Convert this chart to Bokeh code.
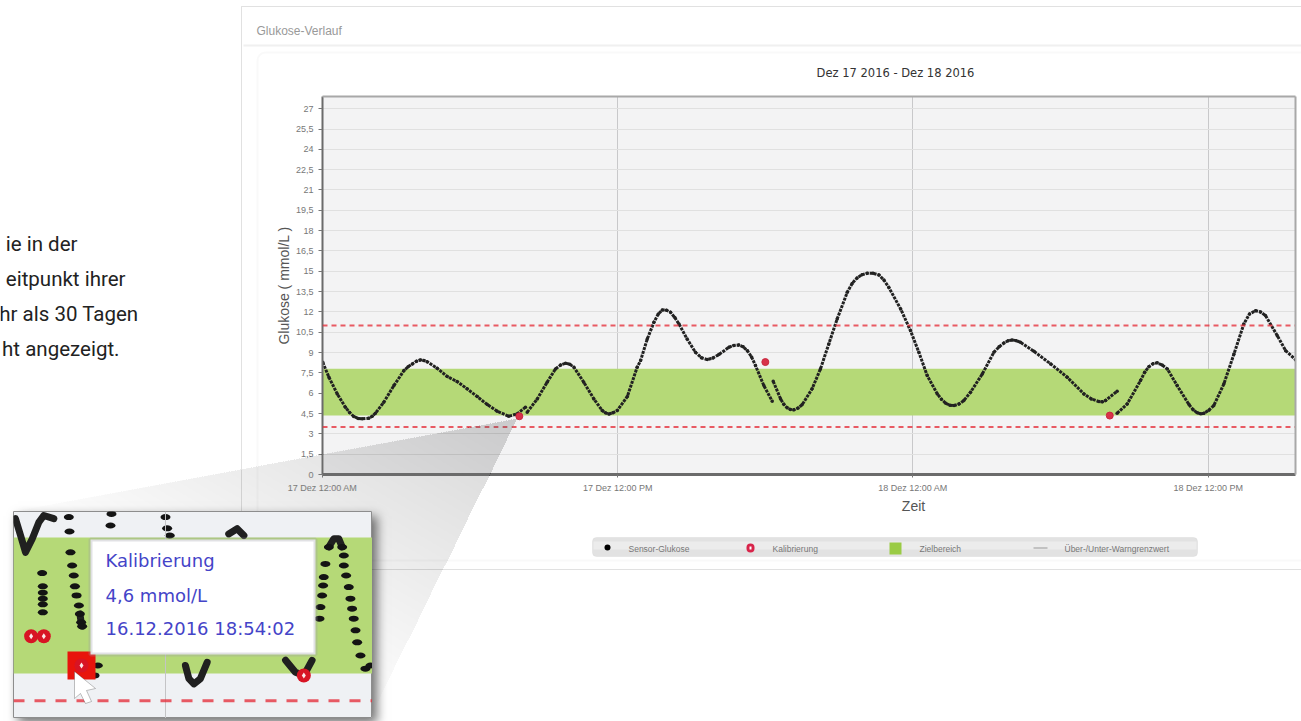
from bokeh.plotting import figure
from bokeh.embed import file_html
from bokeh.resources import INLINE
from bokeh.models import (BoxAnnotation, ColumnDataSource, FixedTicker, Label, PolyAnnotation,
                          Range1d, Span)

# ---------- main chart data: hours since 17 Dec 00:00, glucose in mmol/L ----------
sensor_hours_1 = [0.01,0.26,0.60,0.93,1.10,1.27,1.45,1.61,1.88,2.02,2.15,2.49,2.90,3.31,3.48,3.65,3.82,3.98,4.12,4.25,4.66,5.07,5.47,5.88,6.29,6.70,7.10,7.57,7.91,8.25]
sensor_mmol_1 = [8.28,7.18,5.95,4.97,4.58,4.28,4.14,4.11,4.15,4.30,4.52,5.33,6.56,7.67,7.96,8.16,8.36,8.46,8.42,8.33,7.84,7.23,6.86,6.32,5.75,5.16,4.67,4.30,4.47,4.97]
sensor_hours_2 = [8.32,8.73,9.13,9.47,9.68,9.88,10.05,10.22,10.62,11.03,11.37,11.50,11.64,11.80,11.98,12.39,12.79,12.93,13.20,13.47,13.65,13.81,13.98,14.15,14.32,14.49,14.82,15.16,15.40,15.64,15.87,16.11,16.52,16.72,16.92,17.10,17.27,17.44,17.60,17.94,18.28]
sensor_mmol_2 = [4.60,5.58,6.81,7.79,8.08,8.21,8.14,7.92,6.81,5.58,4.72,4.55,4.47,4.55,4.72,5.75,7.92,8.41,10.0,11.23,11.85,12.14,12.13,11.97,11.58,11.11,10.0,9.02,8.62,8.48,8.60,8.85,9.39,9.53,9.56,9.42,9.14,8.68,8.04,6.56,5.41]
sensor_hours_3 = [18.32,18.62,18.75,18.89,19.02,19.16,19.33,19.50,19.90,20.24,20.58,20.92,21.33,21.53,21.73,21.93,22.14,22.38,22.62,22.82,23.02,23.50,23.90,24.24,24.58,24.99,25.16,25.33,25.50,25.67,25.87,26.07,26.34,26.82,27.29,27.50,27.70,27.87,28.04,28.20,28.37,28.92,29.60,30.27,30.95,31.25,31.56,31.70,31.83,32.30]
sensor_mmol_3 = [6.88,5.58,5.18,4.92,4.80,4.77,4.90,5.16,6.32,7.79,9.64,11.48,13.45,14.10,14.51,14.75,14.85,14.85,14.73,14.35,13.81,12.22,10.62,9.02,7.30,5.95,5.55,5.26,5.12,5.09,5.20,5.46,6.07,7.42,9.02,9.42,9.71,9.87,9.93,9.88,9.76,9.09,8.16,7.18,5.95,5.58,5.38,5.37,5.46,6.15]
sensor_hours_4 = [32.30,32.71,33.25,33.42,33.59,33.76,33.93,34.13,34.34,34.74,35.22,35.39,35.56,35.70,35.83,36.03,36.23,36.64,37.05,37.45,37.68,37.93,38.13,38.33,38.81,39.15,39.56]
sensor_mmol_4 = [4.52,5.21,6.93,7.55,7.96,8.18,8.24,8.08,7.79,6.56,5.16,4.78,4.55,4.48,4.52,4.75,5.09,6.69,8.90,11.11,11.85,12.09,12.00,11.73,10.25,9.14,8.46]
calib_hours = [8.0, 18.0, 32.0]
calib_mmol = [4.3, 8.3, 4.35]
target_low, target_high = 4.35, 7.8
warn_low, warn_high = 3.5, 11.0

y_ticks = [0,1.5,3,4.5,6,7.5,9,10.5,12,13.5,15,16.5,18,19.5,21,22.5,24,25.5,27]
y_tick_labels = ["0","1,5","3","4,5","6","7,5","9","10,5","12","13,5","15","16,5","18","19,5","21","22,5","24","25,5","27"]
x_ticks = [0,12,24,36]
x_tick_labels = ["17 Dez 12:00 AM","17 Dez 12:00 PM","18 Dez 12:00 AM","18 Dez 12:00 PM"]

legend_labels = ["Sensor-Glukose","Kalibrierung","Zielbereich","Über-/Unter-Warngrenzwert"]

# ---------- inset data: hours, mmol/L ----------
inset_runs = [  # stretches where the readings merge into a solid stroke
 ([14.89,15.20,15.50,15.91,16.31,16.61,17.22],[8.27,7.85,7.43,7.77,8.18,8.35,8.27]),
 ([25.21,25.42,25.72,26.12,26.53],[4.60,4.27,4.14,4.27,4.68]),
 ([27.84,28.35,28.76],[7.89,8.02,7.85]),
 ([31.29,31.89,32.40,32.90],[4.73,4.43,4.35,4.73]),
 ([33.92,34.22,34.52,34.73],[7.56,7.77,7.77,7.56]),
 ([18.80,18.88,18.94],[5.89,5.68,5.58]),
]
inset_dot_hours = [16.51,16.55,16.55,16.55,16.55,16.55,18.13,18.17,18.23,18.33,18.43,18.50,18.60,18.74,18.80,18.88,18.94,
                   20.72,20.66,24.00,24.10,24.26,19.69,19.89,
                   33.35,33.41,33.51,33.57,33.61,33.71,33.92,34.73,34.83,34.83,34.97,35.13,35.23,35.33,35.43,35.54,35.64,35.84,36.14,36.45]
inset_dot_mmol = [6.91,6.58,6.42,6.27,6.13,5.93,8.31,7.95,7.43,7.10,6.85,6.58,6.35,6.10,5.89,5.68,5.58,
                  8.39,8.10,8.31,8.03,7.85,4.35,4.60,
                  5.77,6.06,6.35,6.60,6.81,7.14,7.56,7.56,7.35,7.10,6.85,6.56,6.27,6.02,5.77,5.48,5.18,4.85,4.52,4.60]
inset_calib_hours = [15.84,16.61,18.9,32.40]
inset_calib_mmol = [5.33,5.33,4.6,4.35]
inset_target_low, inset_target_high = 4.4, 7.8
inset_warn = 3.72
tooltip_lines = ["Kalibrierung","4,6 mmol/L","16.12.2016 18:54:02"]

GREEN = "#b5d977"
RED = "#e5333f"
TEXT = "#777777"
FONT = "Liberation Sans"
ABS = {"position":"absolute","left":"0px","top":"0px"}

# ---------- the chart ----------
p = figure(width=1301, height=721, output_backend="svg", toolbar_location=None,
           x_range=Range1d(0, 39.55), y_range=Range1d(0, 27.9),
           min_border_left=322, min_border_right=6, min_border_top=96, min_border_bottom=247,
           background_fill_color="#f3f3f4", border_fill_color="white", outline_line_color=None,
           styles=ABS)

p.xaxis.ticker = FixedTicker(ticks=x_ticks)
p.xaxis.major_label_overrides = dict(zip(x_ticks, x_tick_labels))
p.yaxis.ticker = FixedTicker(ticks=y_ticks)
p.yaxis.major_label_overrides = {t: l for t, l in zip(y_ticks, y_tick_labels)}
for ax in (p.xaxis[0], p.yaxis[0]):
    ax.major_label_text_font = FONT
    ax.major_label_text_font_size = "9px"
    ax.major_label_text_color = TEXT
    ax.major_tick_line_color = "#777777"
    ax.major_tick_in = 0
    ax.major_tick_out = 4
    ax.minor_tick_line_color = None
p.xaxis.axis_line_color = "#6b6b6b"
p.xaxis.axis_line_width = 3
p.yaxis.axis_line_color = "#6b6b6b"
p.yaxis.axis_line_width = 2
p.xaxis.major_tick_out = 3
p.yaxis.axis_label = "Glukose ( mmol/L )"
p.yaxis.axis_label_text_font = FONT
p.yaxis.axis_label_text_font_size = "14px"
p.yaxis.axis_label_text_font_style = "normal"
p.yaxis.axis_label_text_color = "#555555"
p.yaxis.axis_label_standoff = 1

p.xgrid.ticker = FixedTicker(ticks=[12,24,36])
p.xgrid.grid_line_color = "#c8c8ca"
p.ygrid.ticker = FixedTicker(ticks=y_ticks)
p.ygrid.grid_line_color = "#e0e0e0"

p.add_layout(BoxAnnotation(bottom=target_low, top=target_high, fill_color=GREEN, fill_alpha=1, line_color=None, level="underlay"))
for w in (warn_low, warn_high):
    p.add_layout(Span(location=w, dimension="width", line_color=RED, line_width=2, line_dash="5 4", line_alpha=0.8))

segs = [(sensor_hours_1,sensor_mmol_1),(sensor_hours_2,sensor_mmol_2),(sensor_hours_3,sensor_mmol_3),(sensor_hours_4,sensor_mmol_4)]
for hrs, vals in segs:
    src = ColumnDataSource(dict(x=hrs, y=vals))
    p.line("x","y",source=src,line_color="#222222",line_width=3,line_dash="3 1")
    p.scatter("x","y",source=src,size=3.5,fill_color="#222222",line_color=None)
p.scatter(calib_hours, calib_mmol, size=7, fill_color="#d8324a", line_color="#c8283f")

# ---------- page furniture: transparent full-page layer above the chart ----------
deco = figure(width=1301, height=721, output_backend="svg", toolbar_location=None,
              x_range=Range1d(0,1301), y_range=Range1d(721,0), x_axis_location=None, y_axis_location=None,
              min_border=0, background_fill_color=None, border_fill_color=None, outline_line_color=None,
              styles=ABS)
deco.grid.visible = False

def cbox(l,t,r,b,**kw):
    kw.setdefault("fill_color",None); kw.setdefault("line_color",None)
    deco.add_layout(BoxAnnotation(left=l,right=r,top=t,bottom=b,left_units="canvas",right_units="canvas",top_units="canvas",bottom_units="canvas",**kw))
def ctext(x,y,t,**kw):
    kw.setdefault("text_font",FONT); kw.setdefault("text_color",TEXT); kw.setdefault("text_font_size","8px")
    kw.setdefault("text_align","center"); kw.setdefault("text_baseline","middle")
    deco.add_layout(Label(x=x,y=y,x_units="canvas",y_units="canvas",text=t,**kw))

cbox(241,6,1320,569,line_color="#9a9a9a",line_width=1)
cbox(243,44,1310,46,fill_color="#f0f0f0",fill_alpha=1)
cbox(257,52,1320,560,line_color="#ececec",line_width=2,border_radius=8)
ctext(256,30,"Glukose-Verlauf",text_align="left",text_font_size="12px",text_color="#999999")
ctext(895,72,"Dez 17 2016 - Dez 18 2016",text_font="DejaVu Sans",text_font_size="11.5px",text_color="#333333")
ctext(913,505,"Zeit",text_font_size="14px",text_color="#555555")
cbox(322,95,1295,97,fill_color="#a8a8a8",fill_alpha=1)
cbox(1294,96,1296,474,fill_color="#a8a8a8",fill_alpha=1)

# legend
cbox(592,537,1197,556,fill_color="#e2e2e2",fill_alpha=1,line_color="#d0d0d0",border_radius=4)
cbox(593,541,1196,549,fill_color="#ececec",fill_alpha=1)
cbox(604,544,610,550,fill_color="black",fill_alpha=1,border_radius=3)
cbox(746,543,754,552,fill_color="#d8244a",fill_alpha=1,border_radius=4)
cbox(749,546,751,549,fill_color="white",fill_alpha=1)
cbox(889,542,901,554,fill_color="#9acb45",fill_alpha=1)
cbox(1033,547,1047,548,fill_color="#999999",fill_alpha=1)
for lx, t in zip((628,772,919,1064), legend_labels):
    ctext(lx,548,t,text_align="left",text_font_size="8.5px",text_color="#777777")

# side note (cut off by the picture's left edge)
for rx, ry, t in zip((77,125,138,119),(243,278,313,348),("ie in der","eitpunkt ihrer","hr als 30 Tagen","ht angezeigt.")):
    ctext(rx,ry,t,text_align="right",text_font="Roboto",text_font_size="20.5px",text_color="#222222")

# zoom wedge from the marker to the inset, darkest at the marker
N = 40
for k in range(1,N+1):
    f = k/N
    xs=[517,517+(13-517)*f,517+(369-517)*f]
    ys=[418,418+(511-418)*f,418+(718-418)*f]
    deco.add_layout(PolyAnnotation(xs=xs,ys=ys,xs_units="canvas",ys_units="canvas",fill_color="#808288",fill_alpha=0.012,line_color=None))

# ---------- inset ----------
ins = figure(width=359, height=207, output_backend="svg", toolbar_location=None,
             x_range=Range1d(14.77,36.57), y_range=Range1d(3.275,8.45), x_axis_location=None, y_axis_location=None,
             min_border=0, background_fill_color="#eff1f4", border_fill_color="#eff1f4", outline_line_color="#8d8d8d",
             styles={"position":"absolute","left":"13px","top":"511px","box-shadow":"5px 5px 10px rgba(0,0,0,0.55)"})
ins.grid.visible = False
ins.add_layout(BoxAnnotation(bottom=inset_target_low, top=inset_target_high, fill_color=GREEN, fill_alpha=1, line_color=None, level="underlay"))
ins.add_layout(Span(location=24,dimension="height",line_color="#c4c4c6",line_width=1))
ins.add_layout(Span(location=inset_warn,dimension="width",line_color=RED,line_width=3,line_dash="11 10",line_alpha=0.8))
for hrs, vals in inset_runs:
    ins.line(hrs,vals,line_color="#202020",line_width=7,line_join="round",line_cap="round")
ins.ellipse(inset_dot_hours,inset_dot_mmol,width=10,height=6,width_units="screen",height_units="screen",fill_color="#141414",line_color=None)
ins.square([18.9],[4.6],size=28,fill_color="#e8140c",line_color=None)
ins.scatter(inset_calib_hours,inset_calib_mmol,size=14,fill_color="#d81424",line_color=None)
ins.scatter(inset_calib_hours,inset_calib_mmol,size=6,marker="diamond",fill_color="white",fill_alpha=0.9,line_color=None)
ins.add_layout(BoxAnnotation(left=77,right=302,top=28,bottom=143,left_units="canvas",right_units="canvas",top_units="canvas",bottom_units="canvas",
                             fill_color="white",fill_alpha=1,line_color="#9a9aa4",line_width=4))
for y,t in zip((49,84,117),tooltip_lines):
    ins.add_layout(Label(x=92,y=y,x_units="canvas",y_units="canvas",text=t,text_font="DejaVu Sans",text_font_size="18px",text_color="#4444c8",text_baseline="middle"))
ins.add_layout(PolyAnnotation(xs=[61,61,67,72,78,73,82],ys=[160,187,182,192,190,179,177],xs_units="canvas",ys_units="canvas",fill_color="white",fill_alpha=1,line_color="#333333",line_width=1))

open("out.html","w").write(file_html([p,deco,ins],INLINE))
